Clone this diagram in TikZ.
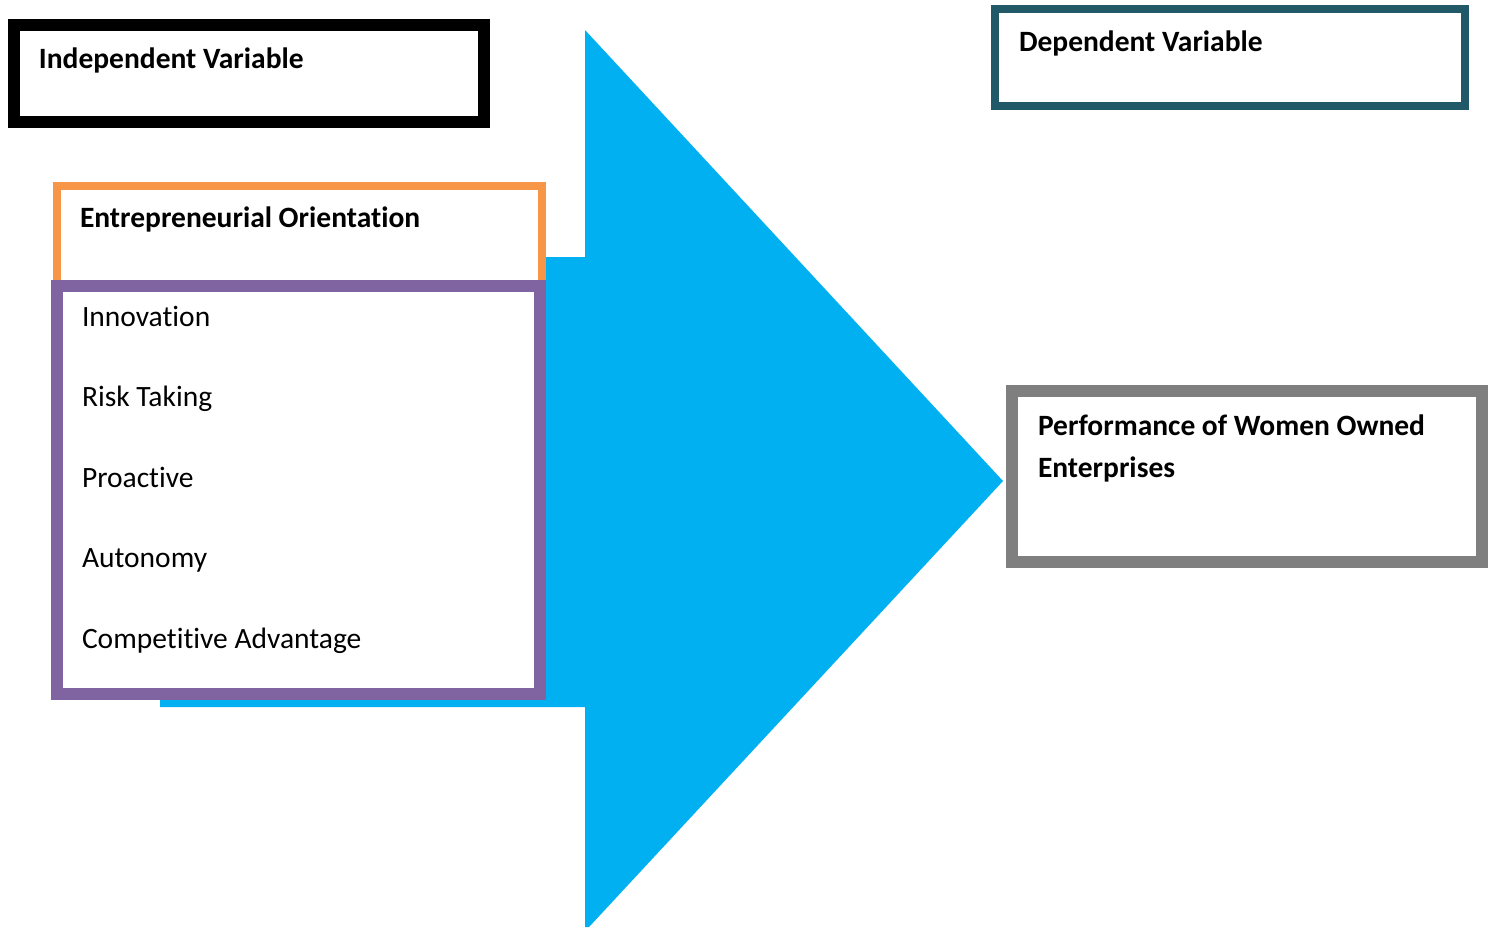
\documentclass[tikz,border=0pt]{standalone}
\usepackage{fontspec}
\setmainfont{Carlito}[Ligatures={NoCommon}]
\definecolor{arrowblue}{HTML}{00B0F0}
\definecolor{eoorange}{HTML}{F79646}
\definecolor{eopurple}{HTML}{8064A2}
\definecolor{depteal}{HTML}{215968}
\definecolor{perfgray}{HTML}{7F7F7F}
\begin{document}
\begin{tikzpicture}[x=0.5pt,y=-0.5pt,
  box/.style={draw,fill=white,rectangle,inner sep=0pt,outer sep=0pt},
  lbl/.style={anchor=base west,inner sep=0pt,outer sep=0pt,font=\fontsize{14.75}{17}\selectfont},
  blbl/.style={lbl,font=\fontsize{14.75}{17}\selectfont\bfseries}]
\useasboundingbox (0,0) rectangle (1492,927);
% big arrow
\fill[arrowblue] (160,257) -- (585,257) -- (585,30) -- (1003,481) -- (589,927) -- (585,927) -- (585,707) -- (160,707) -- cycle;
% boxes
\node[box,line width=6pt,draw=black,minimum width=235pt,minimum height=48.5pt] (indep) at (249,73.5) {};
\node[box,line width=4pt,draw=depteal,minimum width=235pt,minimum height=48.5pt] (dep) at (1230,57.5) {};
\node[box,line width=6pt,draw=perfgray,minimum width=234.75pt,minimum height=85.5pt] (perf) at (1246.75,476.5) {};
\node[box,line width=4pt,draw=eoorange,minimum width=242.75pt,minimum height=50pt] (eo) at (299.25,235.5) {};
\node[box,line width=6pt,draw=eopurple,minimum width=241.75pt,minimum height=204pt] (dims) at (298.25,490) {};
% labels
\node[blbl] (tindep) at (39,68) {Independent Variable};
\node[blbl] (tdep) at (1019,51) {Dependent Variable};
\node[blbl] (tperf) at (1038,435) {Performance of Women Owned};
\node[blbl] (tperf2) at (1038,477) {Enterprises};
\node[blbl] (teo) at (80,227) {Entrepreneurial Orientation};
\node[lbl] (t1) at (82,326) {Innovation};
\node[lbl] (t2) at (82,406) {Risk Taking};
\node[lbl] (t3) at (82,487) {Proactive};
\node[lbl] (t4) at (82,567) {Autonomy};
\node[lbl] (t5) at (82,648) {Competitive Advantage};
\end{tikzpicture}
\end{document}
